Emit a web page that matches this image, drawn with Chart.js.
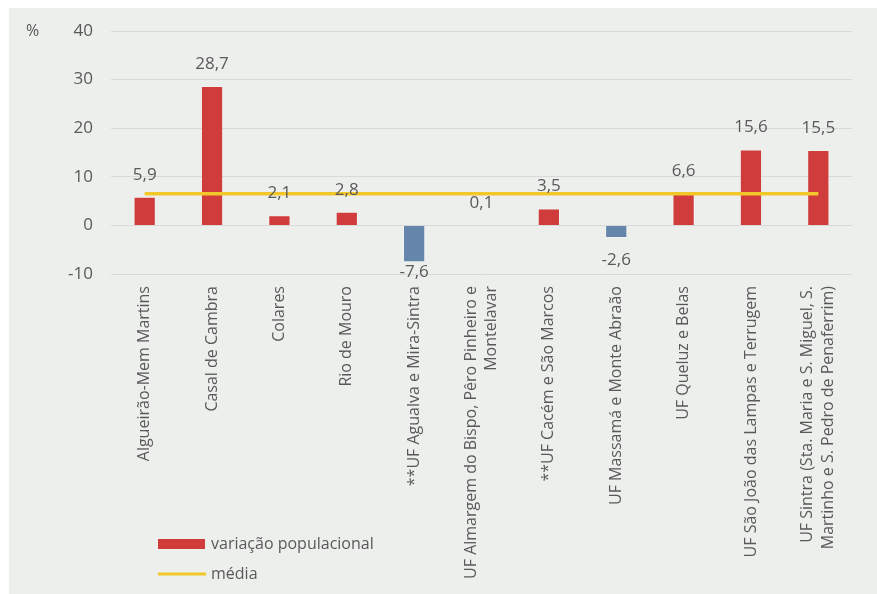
<!DOCTYPE html>
<html>
<head>
<meta charset="utf-8">
<script src="https://cdn.jsdelivr.net/npm/chart.js@4/dist/chart.umd.min.js"></script>
<style>
  body { margin: 0; background: #fff; }
  #panel { position: absolute; left: 9px; top: 8px; width: 868px; height: 586px; background: #ecefec; }
  #chart { position: absolute; left: 0; top: 0; }
</style>
</head>
<body>
<div id="panel"></div>
<canvas id="chart" width="877" height="594"></canvas>
<script>
var categories = [
    'Algueirão-Mem Martins',
    'Casal de Cambra',
    'Colares',
    'Rio de Mouro',
    '**UF Agualva e Mira-Sintra',
    ['UF Almargem do Bispo, Pêro Pinheiro e', 'Montelavar'],
    '**UF Cacém e São Marcos',
    'UF Massamá e Monte Abraão',
    'UF Queluz e Belas',
    'UF São João das Lampas e Terrugem',
    ['UF Sintra (Sta. Maria e S. Miguel, S.', 'Martinho e S. Pedro de Penaferrim)']
]
var variacao = [5.9, 28.7, 2.1, 2.8, -7.6, 0.1, 3.5, -2.6, 6.6, 15.6, 15.5]
var media = [6.5, 6.5, 6.5, 6.5, 6.5, 6.5, 6.5, 6.5, 6.5, 6.5, 6.5]
var yTicks = [-10, 0, 10, 20, 30, 40]

var colors = {
    red: '#d03b3b',
    blue: '#6585aa',
    yellow: '#f2c72a',
    text: '#595959',
    grid: '#d9d9d9'
}
var fontFamily = '"Open Sans", sans-serif'
var xFont = { family: fontFamily, size: 16, lineHeight: 1.3 }

// center the two-line category labels on their tick
var centerLabels = {
    id: 'centerLabels',
    beforeDraw: function (chart) {
        var lh = xFont.size * xFont.lineHeight
        chart.scales.x.getLabelItems().forEach(function (it) {
            if (Array.isArray(it.label) && !it._moved) {
                it.options.translation[0] -= (it.label.length - 1) * lh / 2
                it._moved = true
            }
        })
    }
}

// labels over/under bars
var valueLabels = {
    id: 'valueLabels',
    afterDatasetsDraw: function (chart) {
        var ctx = chart.ctx
        var meta = chart.getDatasetMeta(1)
        ctx.save()
        ctx.font = '17px ' + fontFamily
        ctx.fillStyle = colors.text
        ctx.textAlign = 'center'
        ctx.textBaseline = 'middle'
        meta.data.forEach(function (bar, i) {
            var v = variacao[i]
            var y = v >= 0 ? bar.y - 22 : Math.min(bar.y + 22, chart.chartArea.bottom - 2)
            ctx.fillText(v.toFixed(1).replace('.', ','), bar.x, y)
        })
        // unit
        ctx.textAlign = 'left'
        ctx.font = '16px ' + fontFamily
        ctx.fillText('%', 26, chart.chartArea.top)
        ctx.restore()
    }
}

// legend in the lower left corner
var legendBox = {
    id: 'legendBox',
    afterDraw: function (chart) {
        var ctx = chart.ctx
        var bars = chart.data.datasets[1]
        var line = chart.data.datasets[0]
        ctx.save()
        ctx.fillStyle = colors.red
        ctx.fillRect(158, 539, 47, 10)
        ctx.strokeStyle = line.borderColor
        ctx.lineWidth = 3
        ctx.beginPath()
        ctx.moveTo(158, 574)
        ctx.lineTo(206, 574)
        ctx.stroke()
        ctx.font = '16px ' + fontFamily
        ctx.fillStyle = colors.text
        ctx.textBaseline = 'middle'
        ctx.fillText(bars.label, 211, 544)
        ctx.fillText(line.label, 211, 574)
        ctx.restore()
    }
}

var ctx = document.getElementById('chart').getContext('2d')
new Chart(ctx, {
    type: 'bar',
    data: {
        labels: categories,
        datasets: [{
            type: 'line',
            label: 'média',
            data: media,
            borderColor: colors.yellow,
            borderWidth: 3.5,
            pointRadius: 0,
            order: 0
        }, {
            type: 'bar',
            label: 'variação populacional',
            data: variacao,
            backgroundColor: variacao.map(v => v < 0 ? colors.blue : colors.red),
            borderColor: 'rgba(255,255,255,0.25)',
            borderWidth: 1,
            barPercentage: 0.33,
            categoryPercentage: 1,
            order: 1
        }]
    },
    plugins: [centerLabels, valueLabels, legendBox],
    options: {
        responsive: false,
        animation: false,
        layout: {
            padding: { top: 31, right: 25, left: 0, bottom: 0 }
        },
        plugins: {
            legend: { display: false },
            tooltip: { enabled: false }
        },
        scales: {
            x: {
                grid: { display: false },
                border: { display: false },
                ticks: {
                    autoSkip: false,
                    minRotation: 90,
                    maxRotation: 90,
                    padding: 4,
                    color: colors.text,
                    font: xFont
                },
                afterFit: function (scale) {
                    scale.height = 320
                }
            },
            y: {
                min: yTicks[0],
                max: yTicks[yTicks.length - 1],
                afterBuildTicks: function (scale) {
                    scale.ticks = yTicks.map(v => ({ value: v }))
                },
                grid: { color: colors.grid, drawTicks: false },
                border: { display: false },
                ticks: {
                    padding: 18,
                    color: colors.text,
                    font: { family: fontFamily, size: 17 },
                    callback: function (v) { return String(v) }
                },
                afterFit: function (scale) {
                    scale.width = 111
                }
            }
        }
    }
});
</script>
</body>
</html>
